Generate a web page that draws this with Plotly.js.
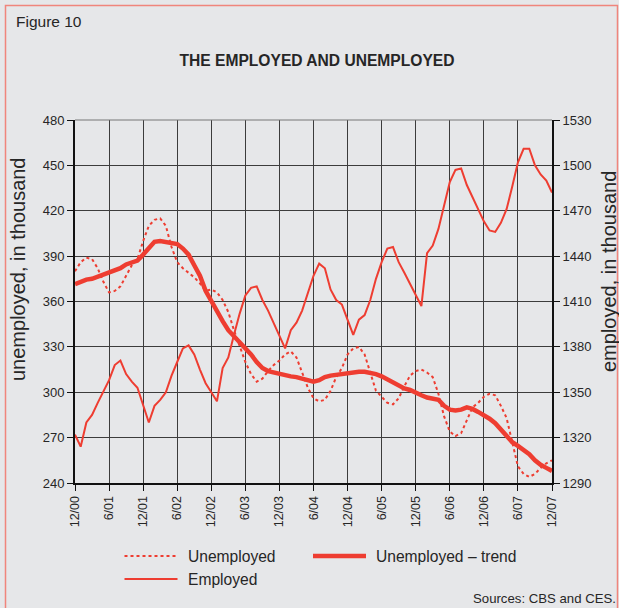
<!DOCTYPE html>
<html>
<head>
<meta charset="utf-8">
<script src="https://cdn.plot.ly/plotly-3.0.1.min.js"></script>
<style>
html,body{margin:0;padding:0;background:#e6e7e9;}
#chart{width:619px;height:608px;}
</style>
</head>
<body>
<div id="chart"></div>
<script>
// x tick labels (every 6 months, Dec 2000 – Dec 2007, monthly data)
const tickLabels = ["12/00","6/01","12/01","6/02","12/02","6/03","12/03","6/04","12/04","6/05","12/05","6/06","12/06","6/07","12/07"];

// Unemployed, thousands (left axis), monthly 12/00 .. 12/07
const unemployed = [380,386,389,388,382,373,366,367,370,377,384,388,400,410,414,415,410,396,386,382,379,376,372,367,
  368,366,361,353,341,330,320,312,307,309,314,318,321,325,327,323,313,303,296,294,295,301,310,316,
  325,329,330,325,313,301,297,293,292,296,304,311,314,315,313,310,299,284,274,271,273,282,290,293,
  297,299,298,291,283,267,251,246,244,246,250,253,255];

// Unemployed – trend, thousands (left axis)
const unemployedTrend = [371.5,373,374.5,375,376.5,378,379,380.5,382,384.5,385.5,387,391,395,399.5,400,399.5,398.5,398,395,391,384,377,367,
  360,353,347,341,337,333,330,325,320,316,314,313,312,311,310.5,310,309,308,307,308,310,311,311.5,312,
  313,313.5,313.5,313.5,313,312,310.5,308.5,306,304,302.5,301.5,299.5,298,296.5,295.5,295,291,288.5,288,288.5,290,289,287,
  285,282.5,279.5,275,270.5,267,264.5,261.5,259,255,252,250,248];

// Employed, thousands (right axis)
const employed = [1322,1314,1330,1335,1343,1350,1358,1368,1371,1362,1357,1353,1341,1330,1341,1345,1350,1361,1370,1379,1381,1375,1365,1356,
  1350,1344,1366,1373,1388,1402,1414,1419,1420,1411,1404,1396,1387,1379,1391,1396,1404,1415,1427,1435,1432,1418,1411,1408,
  1398,1388,1398,1401,1411,1425,1436,1445,1446,1436,1429,1422,1414,1407,1442,1447,1458,1473,1489,1497,1498,1487,1479,1471,
  1463,1457,1456,1462,1471,1486,1502,1511,1511,1500,1494,1490,1482];

const seriesNames = ['Unemployed', 'Unemployed \u2013 trend', 'Employed'];
const axisTitles = ['unemployed, in thousand', 'employed, in thousand'];

const monthIdx = unemployed.map((_, i) => i);
const tickVals = tickLabels.map((_, i) => i * 6);

const RED = '#ee3d31';
const FONT = 'Liberation Sans, Arial, sans-serif';
const TXT = '#262626';

const traces = [
  {x: monthIdx, y: unemployed, name: seriesNames[0], type: 'scatter', mode: 'lines',
   line: {color: RED, width: 2, dash: 'dot'}, yaxis: 'y'},
  {x: monthIdx, y: unemployedTrend, name: seriesNames[1], type: 'scatter', mode: 'lines',
   line: {color: RED, width: 4.5}, yaxis: 'y'},
  {x: monthIdx, y: employed, name: seriesNames[2], type: 'scatter', mode: 'lines',
   line: {color: RED, width: 2}, yaxis: 'y2'}
];

const W = 619, H = 608, L = 75, R = 67, T = 120, B = 125;
const pw = W - L - R, ph = H - T - B;
function px(x){ return (x - L) / pw; }
function py(y){ return (H - B - y) / ph; }

// legend drawn as paper-positioned line samples + labels
const legendItems = [
  {x0: 124.5, x1: 177.5, y: 556, text: seriesNames[0], tx: 185.5, line: {color: RED, width: 2, dash: 'dot'}},
  {x0: 313, x1: 366, y: 556, text: seriesNames[1], tx: 374, line: {color: RED, width: 4.5}},
  {x0: 124.5, x1: 177.5, y: 579, text: seriesNames[2], tx: 185.5, line: {color: RED, width: 2}}
];

const shapes = [
  {type: 'line', xref: 'paper', yref: 'paper', x0: 0, x1: 1, y0: 1, y1: 1, line: {color: '#777', width: 1}},
  {type: 'rect', xref: 'paper', yref: 'paper', x0: px(5.5), x1: px(617.5), y0: py(5.5), y1: py(700),
   line: {color: '#f0857c', width: 1.5}, fillcolor: 'rgba(0,0,0,0)'}
];
const annotations = [
  {text: 'Figure 10', xref: 'paper', yref: 'paper', x: px(14), y: py(21), xanchor: 'left', yanchor: 'middle',
   showarrow: false, font: {size: 15.5, color: TXT}},
  {text: 'Sources: CBS and CES.', xref: 'paper', yref: 'paper', x: px(618), y: py(598), xanchor: 'right', yanchor: 'middle',
   showarrow: false, font: {size: 13.2, color: TXT}},
  {text: axisTitles[0], xref: 'paper', yref: 'paper', x: px(18), y: py(269), xanchor: 'center', yanchor: 'middle',
   textangle: -90, showarrow: false, font: {size: 20, color: TXT}},
  {text: axisTitles[1], xref: 'paper', yref: 'paper', x: px(609), y: py(272), xanchor: 'center', yanchor: 'middle',
   textangle: -90, showarrow: false, font: {size: 20, color: TXT}}
];
legendItems.forEach(it => {
  shapes.push({type: 'line', xref: 'paper', yref: 'paper', x0: px(it.x0), x1: px(it.x1), y0: py(it.y), y1: py(it.y), line: it.line});
  annotations.push({text: it.text, xref: 'paper', yref: 'paper', x: px(it.tx), y: py(it.y), xanchor: 'left', yanchor: 'middle',
                    showarrow: false, font: {size: 15.6, color: TXT}});
});

const layout = {
  width: W, height: H,
  margin: {l: L, r: R, t: T, b: B, pad: 0},
  paper_bgcolor: '#e6e7e9',
  plot_bgcolor: '#e6e7e9',
  font: {family: FONT, color: TXT, size: 13},
  showlegend: false,
  title: {text: '<b>THE EMPLOYED AND UNEMPLOYED</b>', font: {family: FONT, size: 15.6, color: TXT},
          x: 317/W, xanchor: 'center', y: 1 - 61/H, yanchor: 'middle', xref: 'container', yref: 'container'},
  xaxis: {range: [0, 84], tickvals: tickVals, ticktext: tickLabels, tickangle: -90,
          showgrid: true, gridcolor: '#3c3c3c', gridwidth: 1,
          showline: true, linecolor: '#111', linewidth: 2, mirror: false,
          ticks: 'outside', ticklen: 6, tickcolor: '#111', tickwidth: 1,
          tickfont: {size: 12.5, color: TXT}, zeroline: false, automargin: false},
  yaxis: {range: [240, 480], dtick: 30, tick0: 240,
          showgrid: true, gridcolor: '#3c3c3c', gridwidth: 1,
          showline: true, linecolor: '#111', linewidth: 2,
          ticks: 'outside', ticklen: 6, tickcolor: '#111',
          tickfont: {size: 13, color: TXT}, zeroline: false, automargin: false},
  yaxis2: {range: [1290, 1530], dtick: 30, tick0: 1290, overlaying: 'y', side: 'right',
           showgrid: false, showline: true, linecolor: '#111', linewidth: 2,
           ticks: 'outside', ticklen: 6, tickcolor: '#111',
           tickfont: {size: 13, color: TXT}, zeroline: false, automargin: false},
  shapes: shapes,
  annotations: annotations
};

Plotly.newPlot('chart', traces, layout, {displayModeBar: false, staticPlot: true});
</script>
</body>
</html>
